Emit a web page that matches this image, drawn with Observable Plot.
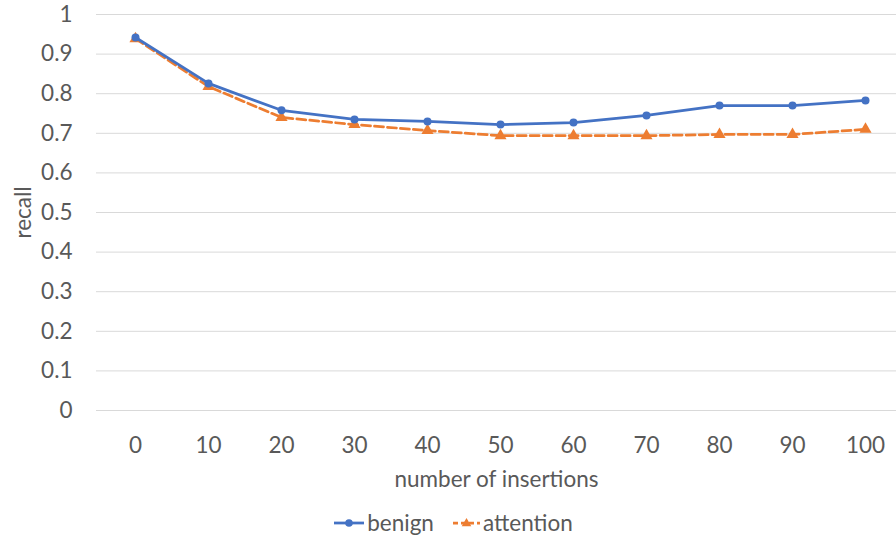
<!DOCTYPE html>
<html>
<head>
<meta charset="utf-8">
<script src="https://cdn.jsdelivr.net/npm/d3@7"></script>
<script src="https://cdn.jsdelivr.net/npm/@observablehq/plot@0.6"></script>
<style>
  html, body { margin: 0; padding: 0; background: #fff; }
  body { width: 896px; height: 541px; overflow: hidden; font-family: Lato, "Open Sans", sans-serif; }
  #chart svg { display: block; }
  #legend { display: flex; justify-content: center; align-items: center; gap: 18px; font-size: 22.5px; line-height: 27px; color: #595959; margin-left: 10px; margin-top: 9px; }
  .item { display: flex; align-items: center; gap: 2px; }
</style>
</head>
<body>
<div id="chart"></div>
<div id="legend"></div>
<script>
const insertions = [0, 10, 20, 30, 40, 50, 60, 70, 80, 90, 100];
const benign    = [0.942, 0.826, 0.758, 0.735, 0.730, 0.722, 0.727, 0.745, 0.770, 0.770, 0.783];
const attention = [0.939, 0.818, 0.740, 0.722, 0.707, 0.694, 0.694, 0.694, 0.697, 0.697, 0.710];
const yTicks = [0, 0.1, 0.2, 0.3, 0.4, 0.5, 0.6, 0.7, 0.8, 0.9, 1];
const seriesNames = ["benign", "attention"];
const seriesColors = ["#4472C4", "#ED7D31"];

const rowsB = insertions.map((x, i) => ({x, y: benign[i]}));
const rowsA = insertions.map((x, i) => ({x, y: attention[i]}));

const chart = Plot.plot({
  width: 896,
  height: 500,
  marginTop: 14,
  marginBottom: 90,
  marginLeft: 96,
  marginRight: 0,
  style: {fontFamily: "Lato, 'Open Sans', sans-serif", fontSize: "22.5px", color: "#595959", background: "#fff"},
  x: {type: "point", domain: insertions, range: [131, 868], padding: 0},
  y: {domain: [0, 1]},
  marks: [
    Plot.ruleY(yTicks, {stroke: "#d9d9d9", strokeWidth: 1}),
    Plot.axisY({ticks: yTicks, tickSize: 0, tickPadding: 24, tickFormat: d => String(d), label: "recall", labelAnchor: "center", labelArrow: "none", labelOffset: 81, fill: "#595959"}),
    Plot.axisX({tickSize: 0, tickPadding: 27, label: "number of insertions", labelAnchor: "center", labelArrow: "none", labelOffset: 76, fill: "#595959"}),
    Plot.line(rowsA, {x: "x", y: "y", stroke: seriesColors[1], strokeWidth: 2.75, strokeDasharray: "9,4"}),
    Plot.dot(rowsA, {x: "x", y: "y", symbol: "triangle", r: 4.5, fill: seriesColors[1], stroke: "none"}),
    Plot.line(rowsB, {x: "x", y: "y", stroke: seriesColors[0], strokeWidth: 2.75}),
    Plot.dot(rowsB, {x: "x", y: "y", r: 4, fill: seriesColors[0], stroke: "none"})
  ]
});
document.getElementById("chart").append(chart);

// legend
const leg = document.getElementById("legend");
seriesNames.forEach((name, i) => {
  const item = document.createElement("div");
  item.className = "item";
  const w = i === 0 ? 32 : 29;
  const sw = d3.create("svg").attr("width", w).attr("height", 12);
  sw.append("line").attr("x1", 1).attr("x2", w - 1).attr("y1", 6).attr("y2", 6)
    .attr("stroke", seriesColors[i]).attr("stroke-width", 2.75)
    .attr("stroke-dasharray", i === 1 ? "5,3" : null);
  if (i === 0) sw.append("circle").attr("cx", w / 2).attr("cy", 6).attr("r", 3.8).attr("fill", seriesColors[i]);
  else sw.append("path").attr("d", d3.symbol(d3.symbolTriangle, 40)()).attr("transform", `translate(${w / 2},6.5)`).attr("fill", seriesColors[i]);
  item.append(sw.node());
  const t = document.createElement("span");
  t.textContent = name;
  item.append(t);
  leg.append(item);
});
</script>
</body>
</html>
